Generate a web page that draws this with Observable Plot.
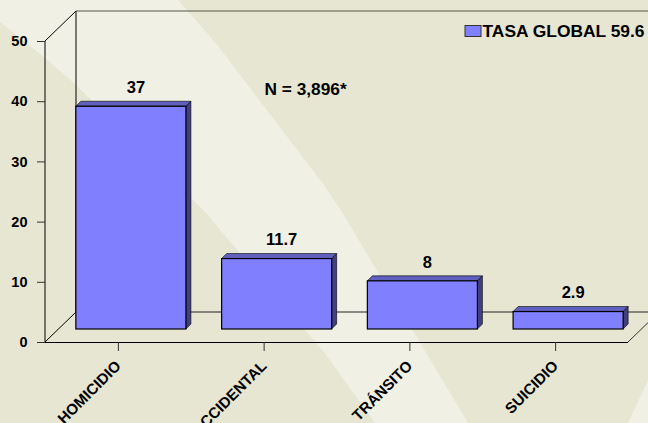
<!DOCTYPE html>
<html><head><meta charset="utf-8">
<script src="https://cdn.jsdelivr.net/npm/d3@7"></script>
<script src="https://cdn.jsdelivr.net/npm/@observablehq/plot@0.6"></script>
<style>
html,body{margin:0;padding:0;background:#e6e6d2;overflow:hidden}
svg{display:block;background:transparent;font-family:"Liberation Sans",Arial,sans-serif;font-weight:bold;color:#000}
</style></head><body><div id="chart"></div>
<script>
const categories = ["HOMICIDIO","ACCIDENTAL","TRÁNSITO","SUICIDIO"];
const values = [37, 11.7, 8, 2.9];
const valueLabels = ["37","11.7","8","2.9"];
const yTicks = [0,10,20,30,40,50];
const legendLabel = "TASA GLOBAL 59.6";
const noteLabel = "N = 3,896*";
const data = categories.map((c,i)=>({c,v:values[i],label:valueLabels[i]}));

const WALL_DX = 31, WALL_DY = 30, BAR_DX = 13, BAR_DY = 13, SIDE = 5;
const BG_LIGHT = "#f0f0e4", FRONT="#8080ff", TOP="#6060c0", RIGHT="#404080";
const lightShapes = [
  [[0,0],[178,0],[215,42],[324,185],[342,212],[468,423],[375,423],[324,352],[205,212],[76,85],[45,58],[0,22]],
  [[628,423],[648,380],[648,423]]
];

const svgNS = "http://www.w3.org/2000/svg";
function el(name, attrs){const e=document.createElementNS(svgNS,name);for(const k in attrs)e.setAttribute(k,attrs[k]);return e;}

const background = () => {
  const g = el("g",{});
  for(const s of lightShapes) g.appendChild(el("polygon",{points:s.join(" "),fill:BG_LIGHT}));
  return g;
};
const walls = (index, {x,y}, values, dims) => {
  const g = el("g",{fill:"none"});
  const x0=dims.marginLeft, x1=dims.width-dims.marginRight, y0=y(0), y1=y(50);
  const line=(a,b,c,d,stroke)=>g.appendChild(el("line",{x1:a,y1:b,x2:c,y2:d,stroke,"stroke-width":1}));
  line(x0+WALL_DX,y1-WALL_DY,x1+WALL_DX,y1-WALL_DY,"#55554a");
  line(x0+WALL_DX,y1-WALL_DY,x0+WALL_DX,y0-WALL_DY,"#000");
  line(x0+WALL_DX,y0-WALL_DY,x1+WALL_DX,y0-WALL_DY,"#222");
  line(x0,y1,x0,y0,"#000");
  line(x0,y1,x0+WALL_DX,y1-WALL_DY,"#000");
  line(x0,y0,x0+WALL_DX,y0-WALL_DY,"#000");
  line(x1,y0,x1+WALL_DX,y0-WALL_DY,"#333");
  return g;
};
const barSides = (index, {x,y}) => {
  const g = el("g",{stroke:"#000","stroke-width":0.6,"stroke-linejoin":"round"});
  for(const d of data){
    const l=x(d.c)+BAR_DX, r=l+x.bandwidth(), t=y(d.v)-BAR_DY, b=y(0)-BAR_DY;
    g.appendChild(el("polygon",{fill:TOP,points:[[l,t],[l+SIDE,t-SIDE],[r+SIDE,t-SIDE],[r,t]].join(" ")}));
    g.appendChild(el("polygon",{fill:RIGHT,points:[[r,t],[r+SIDE,t-SIDE],[r+SIDE,b-SIDE],[r,b]].join(" ")}));
  }
  return g;
};
const legendSwatch = () => el("rect",{x:465,y:25.5,width:16,height:11,fill:FRONT,stroke:"#333","stroke-width":1});

const plot = Plot.plot({
  width:648, height:423,
  marginLeft:45, marginRight:20, marginTop:41, marginBottom:81,
  x:{type:"band",domain:categories,paddingInner:0.245,paddingOuter:0.1225,round:false},
  y:{domain:[0,50]},
  marks:[
    background,
    walls,
    barSides,
    Plot.barY(data,{x:"c",y:"v",dx:BAR_DX,dy:-BAR_DY,fill:FRONT,stroke:"#000",strokeWidth:1.2}),
    Plot.axisY({ticks:yTicks,tickSize:8,tickPadding:10,label:null,fontSize:14.5,stroke:"#333",fill:"#000"}),
    Plot.ruleY([0],{stroke:"#000",strokeWidth:1.2}),
    Plot.axisX({tickSize:9,tickRotate:-45,tickPadding:12,label:null,fontSize:15.2,stroke:"#333",fill:"#000"}),
    Plot.text(data,{x:"c",y:"v",text:"label",dx:17.5,dy:-32,fontSize:16.5,fontWeight:"bold",fill:"#000"}),
    Plot.text([noteLabel],{text:d=>d,frameAnchor:"top-left",dx:219,dy:48,fontSize:17.3,fontWeight:"bold",textAnchor:"start",lineAnchor:"middle",fill:"#000"}),
    legendSwatch,
    Plot.text([legendLabel],{text:d=>d,frameAnchor:"top-left",dx:437,dy:-10,fontSize:17.4,fontWeight:"bold",textAnchor:"start",lineAnchor:"middle",fill:"#000"})
  ]
});
document.getElementById("chart").appendChild(plot);
</script></body></html>
